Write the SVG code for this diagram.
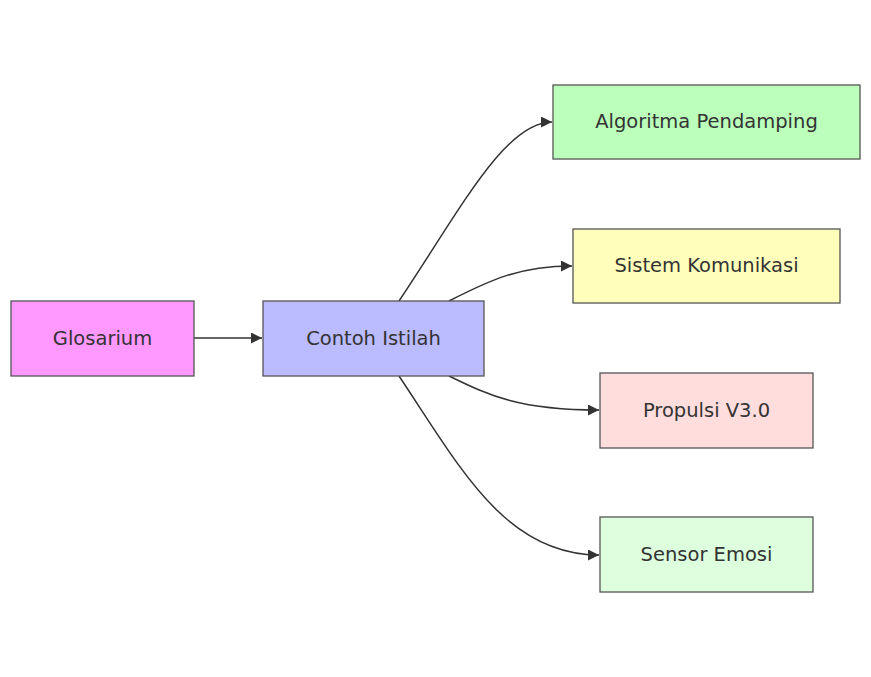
<svg xmlns="http://www.w3.org/2000/svg" width="871" height="677" viewBox="0 0 871 677">
<defs>
<style>
.node rect{stroke:#555;stroke-width:1.3}
.node text{font-family:"DejaVu Sans",Verdana,sans-serif;font-size:19.5px;fill:#333;text-anchor:middle;dominant-baseline:central}
.edges path{fill:none;stroke:#333;stroke-width:1.5}
</style>
<marker id="arrow" viewBox="0 0 10 10" refX="10" refY="5" markerWidth="11" markerHeight="11" markerUnits="userSpaceOnUse" orient="auto">
<path d="M0,0 L10,5 L0,10 z" fill="#333"/>
</marker>
</defs>
<rect width="871" height="677" fill="#fff"/>
<g class="edges">
<path d="M194,338 L262,338" marker-end="url(#arrow)"/>
<path d="M399,301 C460,210 505,122 552,122" marker-end="url(#arrow)"/>
<path d="M449,301 C490,280 520,266 572,266" marker-end="url(#arrow)"/>
<path d="M449,376 C490,396 520,410 599,410" marker-end="url(#arrow)"/>
<path d="M399,376 C460,467 505,555 599,555" marker-end="url(#arrow)"/>
</g>
<g id="glosarium" class="node"><rect x="11" y="301" width="183" height="75" fill="#ff99ff"/><text x="102.5" y="338">Glosarium</text></g>
<g id="contoh" class="node"><rect x="263" y="301" width="221" height="75" fill="#bbbbff"/><text x="373.5" y="338">Contoh Istilah</text></g>
<g id="algoritma" class="node"><rect x="553" y="85" width="307" height="74" fill="#bbffbb"/><text x="706.5" y="121.5">Algoritma Pendamping</text></g>
<g id="sistem" class="node"><rect x="573" y="229" width="267" height="74" fill="#ffffbb"/><text x="706.5" y="265.5">Sistem Komunikasi</text></g>
<g id="propulsi" class="node"><rect x="600" y="373" width="213" height="75" fill="#ffdddd"/><text x="706.5" y="410">Propulsi V3.0</text></g>
<g id="sensor" class="node"><rect x="600" y="517" width="213" height="75" fill="#ddffdd"/><text x="706.5" y="554">Sensor Emosi</text></g>
</svg>
